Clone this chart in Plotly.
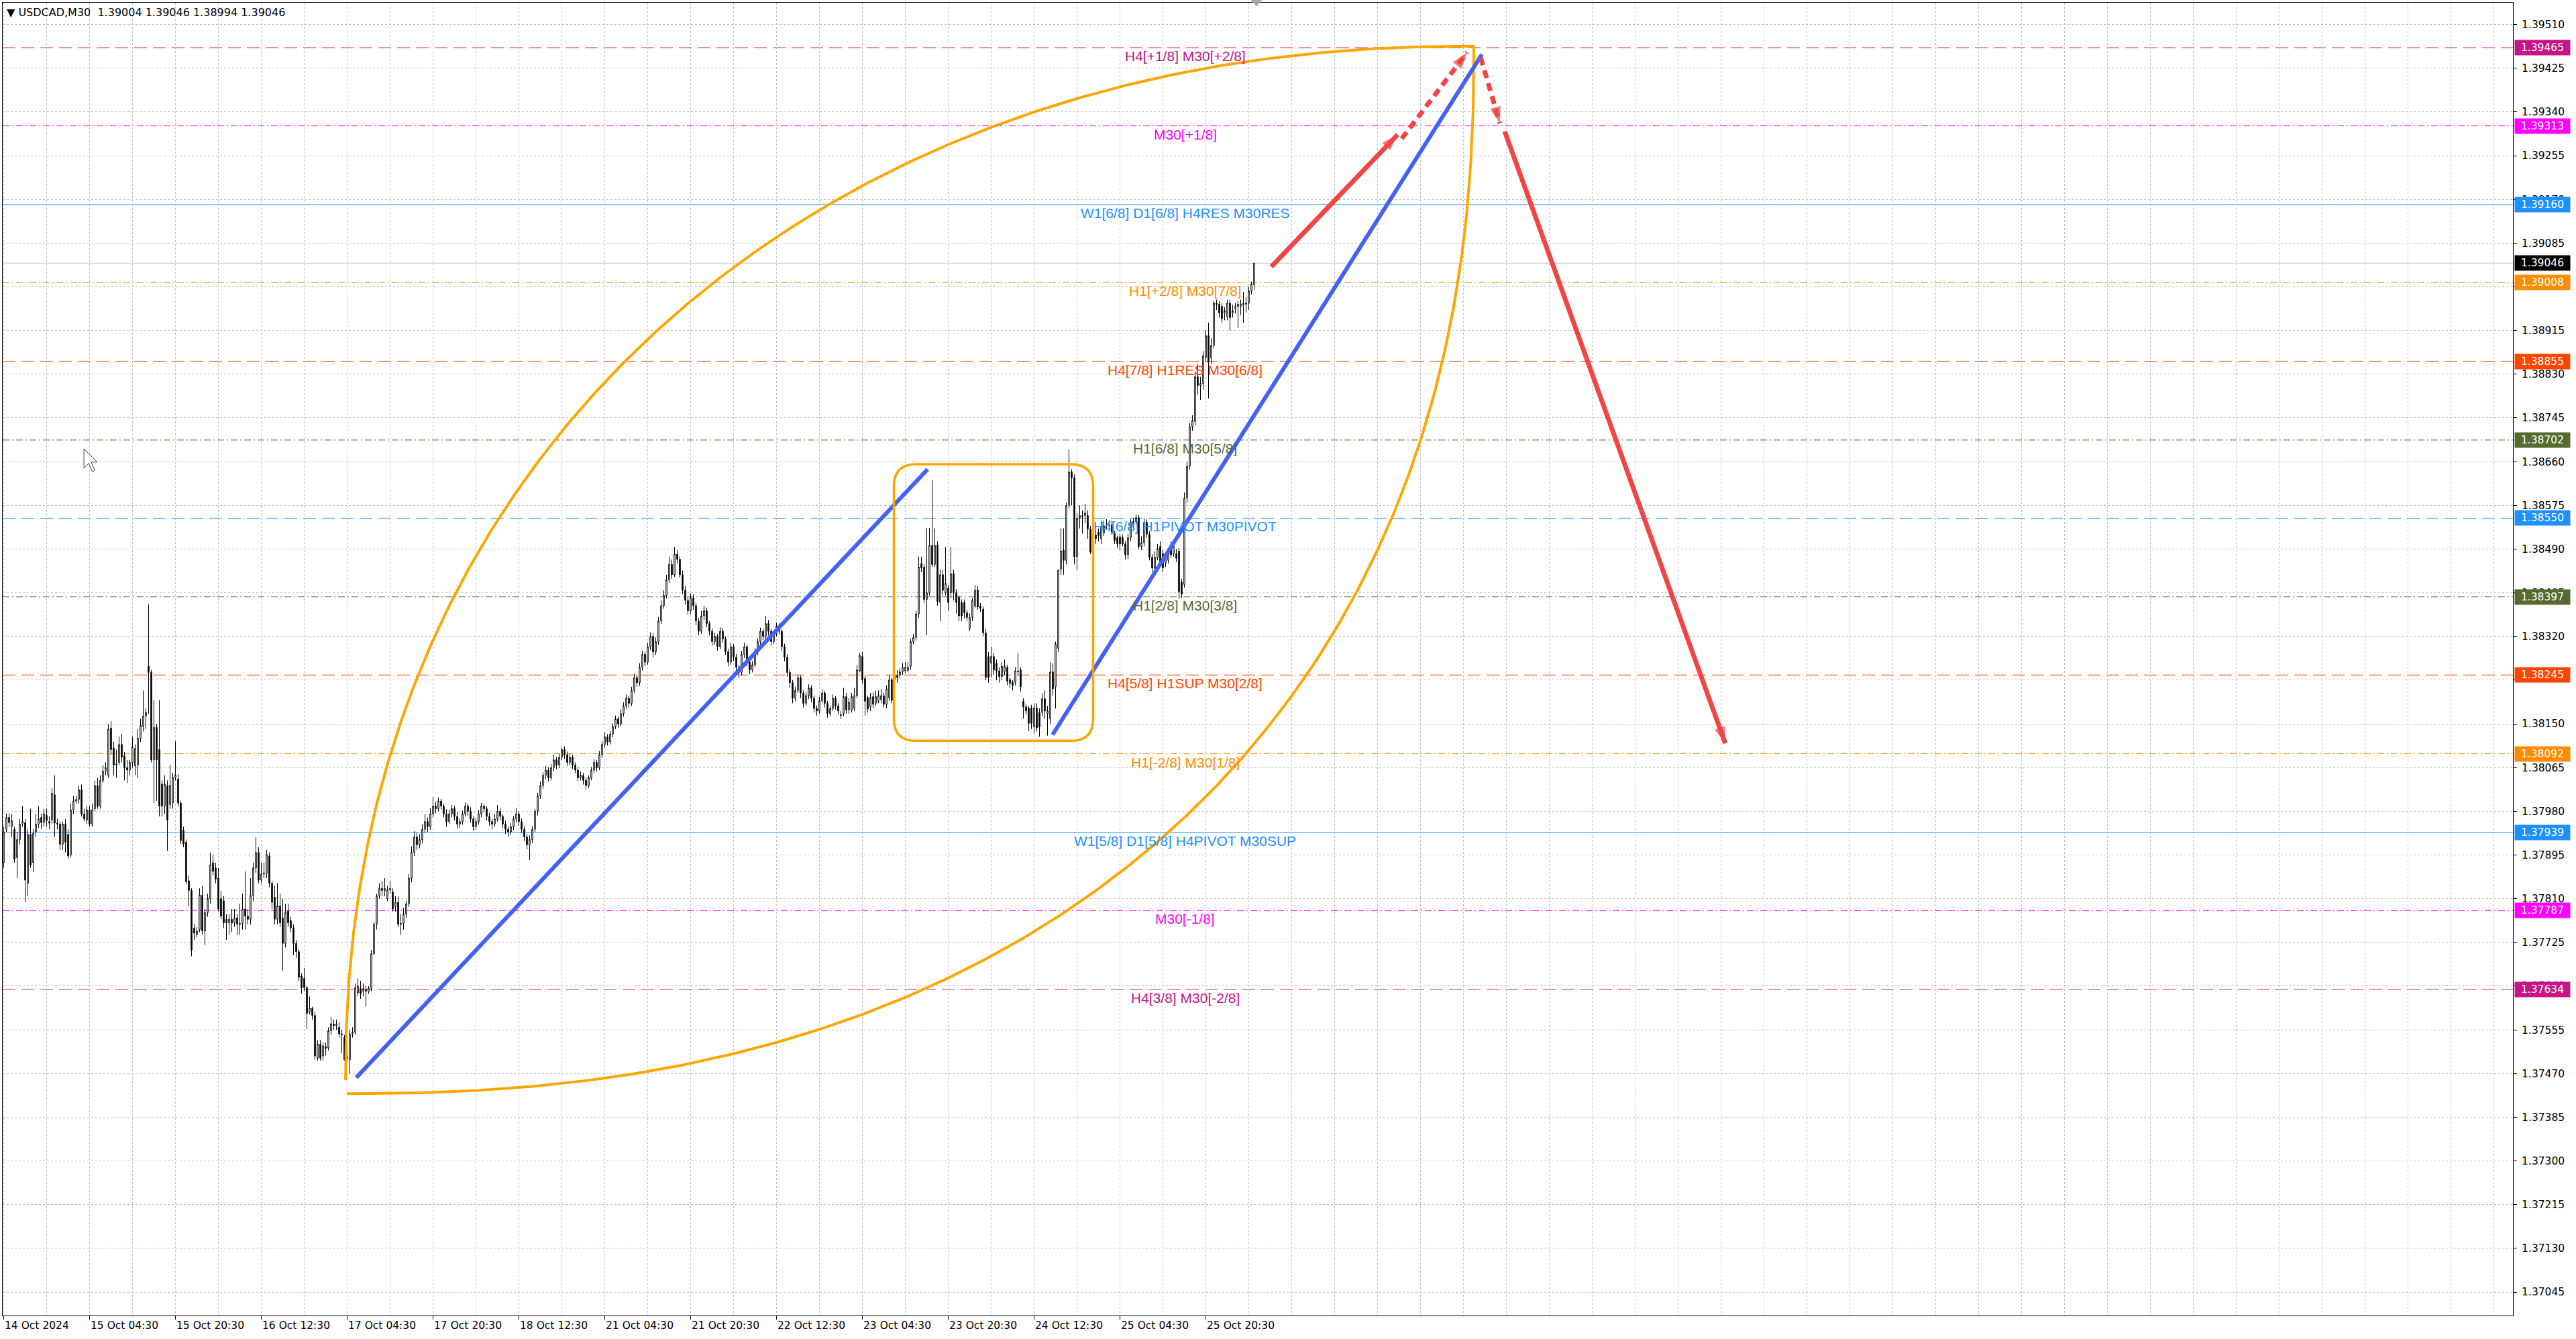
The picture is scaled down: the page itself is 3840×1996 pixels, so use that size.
import math
import plotly.graph_objects as go

# ---------------- DATA (prices coded in points: price = 1.37 + v * 0.00001) ----------------
PRICE_BASE = 1.37
POINT = 0.00001

opens_a = [880,945,968,950,945,890,925,955,958,840, 935,880,940,955,968,958,972,960,963,1012,
           957,955,916,955,935,895,983,1000,1003,1022, 975,963,983,955,985,1030,990,1040,1058,1050,
           1142,1103,1070,1075,1110,1088,1065,1060,1075,1068, 1070,1122,1145,1165,1262,1250,1080,1143,1100,1033,
           990,1030,993,996,1046,1043,996,943,920,845, 826,753,740,750,817,747,783,810,880,870,
           850,810,806,770,763,770,763,773,760,762, 790,776,770,816,870,900,846,858,860,893,
           840,813,770,796,773,723,786,767,753,723, 707,660,655,637,590,597,583,500,527,504,
           522,520,553,566,563,560,547,540,502,497, 547,550,627,635,630,633,630,636,703,760,
           816,830,826,810,827,823,795,803,760]
highs_a = [950,976,976,975,950,940,965,990,965,945, 985,945,975,990,975,985,985,970,1025,1050,
           965,960,960,965,945,995,1010,1010,1030,1032, 985,990,990,995,1040,1045,1050,1070,1075,1150,
           1155,1115,1100,1125,1130,1095,1080,1080,1125,1110, 1140,1160,1215,1180,1382,1255,1196,1150,1196,1040,
           1050,1040,1070,1055,1116,1052,1000,950,925,855, 830,760,755,830,835,790,820,900,895,880,
           870,825,815,780,780,790,790,780,800,820, 863,790,850,880,930,910,880,880,905,900,
           845,835,840,820,810,800,800,775,760,730, 712,665,675,640,620,600,590,535,535,530,
           530,560,580,575,575,570,555,545,540,555, 560,645,655,650,645,640,640,710,765,820,
           840,845,850,835,845,830,815,815,780]
lows_a = [870,940,950,930,880,850,915,950,803,815, 870,862,930,948,945,950,950,945,955,930,
          945,905,905,900,887,890,975,995,995,970, 960,955,950,950,980,985,985,1035,1050,1045,
          1090,1050,1045,1070,1075,1040,1035,1050,1065,1050, 1045,1115,1135,1140,1170,1075,996,1000,970,970,
          975,903,985,985,1040,990,917,910,838,796, 698,730,735,745,740,720,775,800,855,840,
          785,770,753,730,740,745,755,740,740,750, 750,760,760,805,860,840,840,850,850,832,
          790,760,760,755,670,715,755,745,700,695, 650,625,630,557,585,575,497,495,495,495,
          505,515,545,555,555,540,510,495,494,470, 540,545,620,615,620,600,625,630,700,750,
          810,815,815,805,820,785,785,755,740]
closes_a = [940,968,958,962,887,925,955,960,846,935, 876,937,955,965,958,975,962,957,1015,957,
            955,916,955,920,893,983,1000,1003,1022,975, 965,983,955,983,1030,990,1040,1058,1065,1140,
            1100,1070,1072,1110,1085,1064,1060,1075,1105,1102, 1122,1147,1165,1172,1250,1080,1143,1080,990,990,
            1033,963,1030,1046,1050,996,923,916,843,826, 710,743,747,817,747,783,810,876,863,848,
            790,776,763,763,770,763,772,760,762,790, 776,770,816,870,900,846,858,860,896,840,
            803,770,796,763,723,783,763,753,723,707, 657,637,637,587,597,583,504,527,500,524,
            519,553,567,563,566,547,545,497,500,547, 550,637,640,625,635,630,636,703,760,816,
            830,826,830,827,830,790,803,760,762]

# bars 149-311
opens_b = [762,780,800,850,900,930,915,925,945,960, 950,975,990,985,1000,990,975,960,975,985,
           970,955,960,975,990,980,965,950,960,975, 990,985,970,960,955,965,980,970,955,945,
           940,950,965,975,960,945,930,915,925,945, 980,1010,1030,1050,1060,1045,1065,1080,1070,1085,
           1100,1090,1075,1085,1070,1060,1045,1050,1040,1030, 1045,1060,1075,1065,1090,1110,1125,1115,1130,1145,
           1160,1150,1170,1185,1200,1190,1215,1240,1230,1260, 1285,1270,1300,1320,1290,1310,1350,1380,1400,1430,
           1460,1440,1480,1470,1440,1410,1390,1370,1395,1380, 1350,1330,1360,1370,1345,1330,1310,1320,1300,1330,
           1315,1290,1270,1300,1280,1260,1250,1285,1300,1270, 1255,1265,1290,1310,1330,1320,1345,1330,1310,1325,
           1340,1330,1300,1280,1250,1230,1200,1215,1240,1210, 1190,1205,1220,1200,1180,1175,1195,1210,1190,1170,
           1180,1200,1185]
highs_b = [792,806,858,912,941,938,936,955,975,968, 986,1008,998,1007,1004,995,984,983,992,990,
           978,966,981,997,995,988,970,967,982,996, 994,990,977,965,975,992,986,975,962,950,
           958,971,986,980,966,951,936,933,951,985, 1016,1038,1056,1068,1066,1072,1090,1086,1093,1104,
           1106,1096,1092,1090,1075,1066,1057,1055,1046,1050, 1066,1081,1080,1097,1116,1133,1130,1136,1151,1166,
           1165,1178,1192,1207,1205,1222,1248,1246,1268,1292, 1290,1308,1328,1326,1318,1358,1390,1410,1440,1475,
           1470,1494,1488,1476,1448,1418,1396,1404,1402,1386, 1356,1370,1380,1376,1350,1336,1327,1325,1338,1336,
           1320,1296,1308,1305,1286,1265,1292,1308,1304,1276, 1272,1297,1316,1337,1335,1360,1352,1335,1331,1347,
           1345,1334,1306,1285,1256,1235,1222,1246,1244,1215, 1212,1227,1225,1205,1186,1202,1217,1214,1195,1186,
           1207,1204,1190]
lows_b = [750,772,794,842,893,905,908,918,938,940, 944,968,976,980,983,968,950,955,968,962,
          946,948,954,970,972,958,942,944,954,968, 978,962,952,945,950,960,962,948,936,930,
          934,944,958,952,938,922,906,885,918,940, 972,1004,1024,1042,1038,1040,1058,1062,1064,1080,
          1082,1068,1070,1062,1054,1038,1040,1032,1022,1025, 1040,1054,1058,1060,1084,1104,1108,1110,1124,1140,
          1142,1145,1164,1180,1182,1185,1210,1222,1224,1254, 1262,1265,1294,1280,1284,1304,1344,1374,1394,1424,
          1432,1436,1462,1434,1402,1382,1362,1364,1372,1342, 1322,1325,1352,1338,1322,1302,1304,1292,1295,1308,
          1284,1262,1265,1272,1252,1240,1244,1278,1262,1246, 1250,1260,1284,1304,1313,1315,1322,1302,1305,1320,
          1324,1292,1272,1242,1220,1190,1194,1210,1200,1182, 1185,1198,1192,1172,1166,1170,1190,1182,1162,1165,
          1175,1178,1168]
closes_b = [780,800,850,900,930,915,925,945,960,950, 975,990,985,1000,990,975,960,975,985,970,
            955,960,975,990,980,965,950,960,975,990, 985,970,960,955,965,980,970,955,945,940,
            950,965,975,960,945,930,915,925,945,980, 1010,1030,1050,1060,1045,1065,1080,1070,1085,1100,
            1090,1075,1085,1070,1060,1045,1050,1040,1030,1045, 1060,1075,1065,1090,1110,1125,1115,1130,1145,1160,
            1150,1170,1185,1200,1190,1215,1240,1230,1260,1285, 1270,1300,1320,1290,1310,1350,1380,1400,1430,1460,
            1440,1480,1470,1440,1410,1390,1370,1395,1380,1350, 1330,1360,1370,1345,1330,1310,1320,1300,1330,1315,
            1290,1270,1300,1280,1260,1250,1285,1300,1270,1255, 1265,1290,1310,1330,1320,1345,1330,1310,1325,1340,
            1330,1300,1280,1250,1230,1200,1215,1240,1210,1190, 1205,1220,1200,1180,1175,1195,1210,1190,1170,1180,
            1200,1185,1175]

# bars 312-466
opens_c = [1166,1170,1203,1177,1177,1180,1205,1253,1281,1238, 1201,1183,1203,1190,1194,1197,1205,1188,1201,1236,
           1236,1244,1244,1251,1253,1254,1262,1310,1318,1364, 1462,1455,1392,1405,1497,1460,1498,1386,1440,1405,
           1414,1405,1442,1405,1396,1386,1386,1366,1336,1357, 1379,1410,1379,1373,1327,1281,1268,1281,1268,1253,
           1242,1251,1260,1236,1231,1231,1251,1255,1194,1183, 1181,1181,1144,1181,1172,1172,1199,1170,1160,1251,
           1222,1297,1451,1488,1468,1575,1640,1629,1475,1551, 1555,1555,1555,1529,1484,1517,1523,1510,1521,1535,
           1537,1537,1521,1512,1514,1512,1500,1479,1512,1544, 1544,1551,1495,1502,1542,1519,1474,1453,1474,1495,
           1481,1463,1468,1495,1481,1481,1486,1426,1421,1589, 1651,1728,1738,1825,1808,1812,1862,1905,1862,1886,
           1968,1966,1962,1949,1942,1968,1949,1957,1962,1962, 1964,1966,1968,1992,2004]
highs_c = [1175,1220,1210,1200,1210,1220,1265,1288,1290,1245, 1205,1210,1212,1215,1215,1218,1210,1225,1245,1240,
           1250,1255,1258,1268,1270,1270,1315,1325,1370,1475, 1475,1460,1531,1531,1625,1530,1505,1450,1450,1494,
           1420,1494,1450,1412,1400,1392,1392,1372,1365,1395, 1420,1418,1385,1378,1335,1290,1300,1288,1275,1260,
           1270,1275,1265,1240,1235,1260,1288,1260,1200,1188, 1185,1187,1190,1190,1180,1210,1215,1185,1270,1268,
           1310,1450,1530,1530,1580,1684,1645,1635,1560,1575, 1565,1578,1565,1535,1510,1525,1530,1545,1545,1548,
           1546,1545,1525,1516,1520,1518,1505,1520,1548,1550, 1558,1556,1515,1550,1548,1525,1480,1485,1500,1505,
           1488,1480,1492,1505,1508,1490,1492,1432,1600,1660, 1735,1750,1835,1850,1825,1875,1916,1930,1900,1972,
           1975,1972,1968,1960,1975,1975,1965,1968,1972,1975, 1990,1980,2000,2010,2046]
lows_c = [1160,1165,1170,1170,1172,1175,1200,1250,1228,1166, 1172,1175,1180,1185,1190,1190,1182,1180,1195,1190,
          1225,1230,1238,1245,1248,1250,1255,1305,1312,1355, 1445,1385,1323,1400,1455,1455,1380,1350,1400,1400,
          1370,1395,1390,1365,1350,1350,1355,1350,1330,1350, 1375,1372,1368,1320,1235,1230,1240,1245,1235,1230,
          1235,1245,1225,1220,1215,1225,1245,1213,1160,1168, 1136,1140,1131,1135,1125,1165,1160,1127,1150,1205,
          1180,1290,1440,1440,1460,1570,1575,1460,1450,1530, 1520,1540,1510,1480,1478,1500,1505,1500,1515,1528,
          1528,1518,1500,1492,1488,1495,1470,1470,1505,1530, 1538,1490,1488,1495,1512,1468,1445,1448,1468,1460,
          1445,1455,1462,1472,1475,1465,1393,1395,1415,1580, 1645,1720,1730,1790,1780,1800,1855,1783,1850,1880,
          1955,1940,1930,1935,1935,1915,1940,1948,1920,1945, 1930,1950,1955,1985,1994]
closes_c = [1168,1203,1177,1192,1203,1205,1255,1283,1236,1194, 1179,1201,1188,1203,1205,1205,1188,1218,1236,1196,
            1244,1240,1251,1260,1260,1260,1310,1318,1364,1455, 1453,1392,1405,1497,1460,1497,1388,1440,1410,1423,
            1386,1442,1405,1386,1360,1360,1366,1357,1357,1390, 1410,1377,1375,1327,1240,1240,1281,1255,1253,1242,
            1262,1262,1233,1229,1225,1253,1253,1222,1183,1175, 1151,1151,1181,1142,1144,1199,1175,1175,1251,1218,
            1305,1449,1486,1468,1575,1640,1629,1475,1549,1555, 1553,1560,1529,1484,1495,1510,1516,1532,1535,1537,
            1535,1523,1507,1500,1500,1500,1479,1512,1542,1537, 1551,1495,1502,1542,1519,1474,1453,1474,1491,1465,
            1453,1472,1481,1479,1495,1472,1407,1402,1589,1651, 1728,1740,1825,1808,1812,1866,1905,1853,1886,1968,
            1966,1949,1938,1953,1968,1940,1953,1962,1966,1966, 1968,1968,1992,2005,2046]

opens = opens_a + opens_b + opens_c
highs = highs_a + highs_b + highs_c
lows = lows_a + lows_b + lows_c
closes = closes_a + closes_b + closes_c

def to_price(v):
    return round(PRICE_BASE + v * POINT, 5)

O = [to_price(v) for v in opens]
H = [to_price(v) for v in highs]
L = [to_price(v) for v in lows]
C = [to_price(v) for v in closes]
bar_idx = list(range(len(C)))

y_ticks = [1.39510, 1.39425, 1.39340, 1.39255, 1.39170, 1.39085, 1.39000, 1.38915, 1.38830, 1.38745,
           1.38660, 1.38575, 1.38490, 1.38405, 1.38320, 1.38235, 1.38150, 1.38065, 1.37980, 1.37895,
           1.37810, 1.37725, 1.37640, 1.37555, 1.37470, 1.37385, 1.37300, 1.37215, 1.37130, 1.37045]
hidden_tick_labels = [1.39000, 1.38235]   # fully covered by price tags

time_labels = ["14 Oct 2024", "15 Oct 04:30", "15 Oct 20:30", "16 Oct 12:30", "17 Oct 04:30",
               "17 Oct 20:30", "18 Oct 12:30", "21 Oct 04:30", "21 Oct 20:30", "22 Oct 12:30",
               "23 Oct 04:30", "23 Oct 20:30", "24 Oct 12:30", "25 Oct 04:30", "25 Oct 20:30"]
time_label_bars = [0, 32, 64, 96, 128, 160, 192, 224, 256, 288, 320, 352, 384, 416, 448]

level_prices = [1.39465, 1.39313, 1.39160, 1.39008, 1.38855, 1.38702, 1.38550,
                1.38397, 1.38245, 1.38092, 1.37939, 1.37787, 1.37634]
level_names = ["H4[+1/8] M30[+2/8]", "M30[+1/8]", "W1[6/8] D1[6/8] H4RES M30RES",
               "H1[+2/8] M30[7/8]", "H4[7/8] H1RES M30[6/8]", "H1[6/8] M30[5/8]",
               "H4[6/8] H1PIVOT M30PIVOT", "H1[2/8] M30[3/8]", "H4[5/8] H1SUP M30[2/8]",
               "H1[-2/8] M30[1/8]", "W1[5/8] D1[5/8] H4PIVOT M30SUP", "M30[-1/8]", "H4[3/8] M30[-2/8]"]
level_colors = ["#C71585", "#FF00FF", "#1E90FF", "#FF8C00", "#FF4500", "#556B2F", "#1E90FF",
                "#556B2F", "#FF4500", "#FF8C00", "#1E90FF", "#FF00FF", "#C71585"]
level_styles = ["dash", "dashdot", "solid", "dashdot", "dash", "dashdot", "dash",
                "dashdot", "dash", "dashdot", "solid", "dashdot", "dash"]
level_label_bar = 440.25

current_price = 1.39046
header_text = "USDCAD,M30\u00a0\u00a01.39004 1.39046 1.38994 1.39046"

# drawing anchors (bar index, price)
arc_lower_start = (127.9, 1.37431)
arc_upper_start = (127.4, 1.37457)
arc_end = (547.9, 1.39468)
blue_line_1 = [(131.4, 1.37462), (344.3, 1.38645)]
blue_line_2 = [(390.9, 1.38129), (550.9, 1.39452)]
box_bars = (331.75, 406.0)
box_prices = (1.38117, 1.38655)
red_up_solid = [(472.4, 1.39039), (519.5, 1.39296)]
red_up_dash = [(521.0, 1.39288), (545.4, 1.39456)]
red_down_dash = [(550.4, 1.39446), (557.6, 1.39318)]
red_down_solid = [(559.4, 1.39302), (641.6, 1.38112)]
cursor_anchor = (29.9, 1.38685)
shift_marker_bar = 466.9

# ---------------- FIGURE ----------------
X_RANGE = [-0.375, 935.125]
Y_RANGE = [1.369994, 1.395525]
DASHES = {"dash": "19px,9px", "dashdot": "10px,4px,2px,4px", "solid": "solid"}
GRID = "#C0C0C0"
AXFONT = dict(family="DejaVu Sans", size=15.5, color="black")

fig = go.Figure()

fig.add_trace(go.Candlestick(
    x=bar_idx, open=O, high=H, low=L, close=C,
    increasing=dict(line=dict(color="black", width=1), fillcolor="white"),
    decreasing=dict(line=dict(color="black", width=1), fillcolor="black"),
    whiskerwidth=0, showlegend=False, hoverinfo="skip"))

# level lines
for p, col, st in zip(level_prices, level_colors, level_styles):
    fig.add_shape(type="line", xref="paper", x0=0, x1=1, yref="y", y0=p, y1=p,
                  line=dict(color=col, width=1, dash=DASHES[st]), layer="between")
fig.add_shape(type="line", xref="paper", x0=0, x1=1, yref="y", y0=current_price, y1=current_price,
              line=dict(color="#C0C0C0", width=1), layer="between")

# orange rounded box
bx0, bx1 = box_bars
by0, by1 = box_prices
rx = 8.25
ry = 0.00043
box_path = (f"M {bx0+rx},{by1} L {bx1-rx},{by1} Q {bx1},{by1} {bx1},{by1-ry} "
            f"L {bx1},{by0+ry} Q {bx1},{by0} {bx1-rx},{by0} L {bx0+rx},{by0} "
            f"Q {bx0},{by0} {bx0},{by0+ry} L {bx0},{by1-ry} Q {bx0},{by1} {bx0+rx},{by1} Z")
fig.add_shape(type="path", path=box_path, xref="x", yref="y",
              line=dict(color="#FFA500", width=3.5), layer="above")

# orange arcs (quarter super-ellipses between anchor points)
def arc_points(start, end, bulge_up, n, N=300):
    xs, ys = start
    xe, ye = end
    px, py = [], []
    for k in range(N + 1):
        t = (math.pi / 2) * k / N
        c = math.cos(t) ** (2.0 / n)
        s = math.sin(t) ** (2.0 / n)
        if bulge_up:
            px.append(xe + (xs - xe) * c)
            py.append(ys + (ye - ys) * s)
        else:
            px.append(xs + (xe - xs) * c)
            py.append(ye + (ys - ye) * s)
    return px, py

for start, up, n in [(arc_upper_start, True, 2.15), (arc_lower_start, False, 2.3)]:
    ax_, ay_ = arc_points(start, arc_end, up, n)
    fig.add_trace(go.Scatter(x=ax_, y=ay_, mode="lines", line=dict(color="#FFA500", width=4),
                             showlegend=False, hoverinfo="skip"))

# blue trend lines
for seg in (blue_line_1, blue_line_2):
    fig.add_trace(go.Scatter(x=[p[0] for p in seg], y=[p[1] for p in seg], mode="lines",
                             line=dict(color="#4361F2", width=6), showlegend=False, hoverinfo="skip"))

# red forecast arrows
RED = "#F24444"
for seg, dash in [(red_up_solid, "solid"), (red_up_dash, "12px,8px"),
                  (red_down_dash, "12px,8px"), (red_down_solid, "solid")]:
    fig.add_trace(go.Scatter(x=[p[0] for p in seg], y=[p[1] for p in seg], mode="lines",
                             line=dict(color=RED, width=7, dash=dash), showlegend=False, hoverinfo="skip"))
    fig.add_trace(go.Scatter(x=[p[0] for p in seg], y=[p[1] for p in seg], mode="markers",
                             marker=dict(symbol="arrow", size=[1, 26], color=RED, angleref="previous",
                                         line=dict(width=0)),
                             showlegend=False, hoverinfo="skip"))

# mouse cursor (arrow pointer) drawn at its anchor
cx, cy = cursor_anchor
PXX, PXY = 0.25, 1 / 76650.0
CUR_SCALE = 1.8
cur = [(0, 0), (0, 16), (4, 12), (7, 19), (9, 18), (6, 11), (11, 11)]
cur_path = "M " + " L ".join(f"{cx + a * CUR_SCALE * PXX},{cy - b * CUR_SCALE * PXY}" for a, b in cur) + " Z"
fig.add_shape(type="path", path=cur_path, xref="x", yref="y",
              line=dict(color="#404040", width=1), fillcolor="white", layer="above")

# chart-shift marker (small grey triangle on the top edge)
sm = shift_marker_bar
fig.add_shape(type="path", xref="x", yref="paper",
              path=f"M {sm-1.9},1.0018 L {sm+1.9},1.0018 L {sm},0.9975 Z",
              fillcolor="#A8A8A8", line=dict(color="#A8A8A8", width=1), layer="above")

annotations = []
# level labels
for p, name, col in zip(level_prices, level_names, level_colors):
    annotations.append(dict(x=level_label_bar, y=p, xref="x", yref="y", text=name, showarrow=False,
                            xanchor="center", yanchor="top", yshift=1,
                            font=dict(family="Liberation Sans, Arial", size=21, color=col)))
# right-side price tags
for p, col in list(zip(level_prices, level_colors)) + [(current_price, "#000000")]:
    annotations.append(dict(x=1, y=p, xref="paper", yref="y", text=f"{p:.5f}", showarrow=False,
                            xanchor="left", yanchor="middle", xshift=2, width=80, height=20,
                            bgcolor=col, borderpad=1,
                            font=dict(family="DejaVu Sans", size=15.5, color="white")))
# time labels
for b, t in zip(time_label_bars, time_labels):
    annotations.append(dict(x=b, y=0, xref="x", yref="paper", text=t, showarrow=False,
                            xanchor="left", yanchor="top", xshift=-1, yshift=-4, font=AXFONT))
# header
annotations.append(dict(x=0, y=1, xref="paper", yref="paper", text="\u25bc " + header_text,
                        showarrow=False, xanchor="left", yanchor="top", xshift=4, yshift=-3,
                        font=dict(family="DejaVu Sans", size=16, color="black")))

fig.update_layout(
    width=3840, height=1996,
    margin=dict(l=4, r=94, t=4, b=35),
    paper_bgcolor="white", plot_bgcolor="white",
    boxgap=0.45,
    showlegend=False,
    annotations=annotations,
    xaxis=dict(range=X_RANGE, rangeslider=dict(visible=False), showline=True, linecolor="black",
               linewidth=1, mirror=True, tickmode="array", tickvals=time_label_bars,
               ticks="outside", ticklen=5, tickcolor="black", showticklabels=False,
               showgrid=True, gridcolor=GRID, griddash="3px,3px", gridwidth=1, zeroline=False,
               minor=dict(tickmode="linear", tick0=0, dtick=16, showgrid=True, gridcolor=GRID,
                          griddash="3px,3px", ticks="")),
    yaxis=dict(side="right", range=Y_RANGE, tickmode="array", tickvals=y_ticks,
               ticktext=["" if v in hidden_tick_labels else f"{v:.5f}" for v in y_ticks],
               ticks="outside", ticklen=5, tickcolor="black",
               showline=True, linecolor="black", linewidth=1, mirror=True, showgrid=True,
               gridcolor=GRID, griddash="3px,3px", zeroline=False, tickfont=AXFONT,
               ticklabelstandoff=4),
)

fig.write_html("out.html", config={"displayModeBar": False},
               post_script="document.body.style.margin='0px';")
